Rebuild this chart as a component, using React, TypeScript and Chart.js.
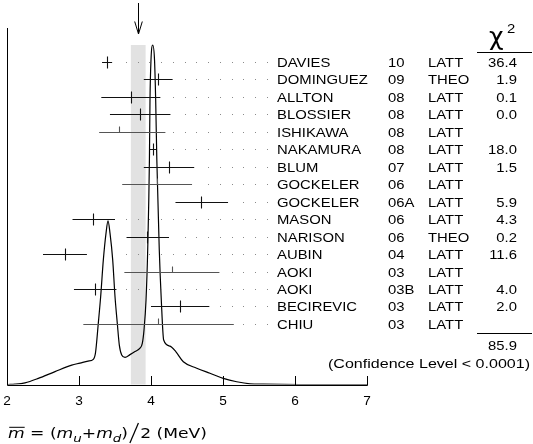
import React, { useEffect, useRef } from "react";
import { Chart, registerables } from "chart.js";
Chart.register(...registerables);

// ---- data ----
const names = ["DAVIES", "DOMINGUEZ", "ALLTON", "BLOSSIER", "ISHIKAWA", "NAKAMURA", "BLUM", "GOCKELER", "GOCKELER", "MASON", "NARISON", "AUBIN", "AOKI", "AOKI", "BECIREVIC", "CHIU"];
const years = ["10", "09", "08", "08", "08", "08", "07", "06", "06A", "06", "06", "04", "03", "03B", "03", "03"];
const methods = ["LATT", "THEO", "LATT", "LATT", "LATT", "LATT", "LATT", "LATT", "LATT", "LATT", "THEO", "LATT", "LATT", "LATT", "LATT", "LATT"];
const chi2 = ["36.4", "1.9", "0.1", "0.0", "", "18.0", "1.5", "", "5.9", "4.3", "0.2", "11.6", "", "4.0", "2.0", ""];
const values = [3.39, 4.10, 3.72, 3.85, 3.55, 4.026, 4.25, 4.08, 4.70, 3.20, 3.95, 2.81, 4.29, 3.22, 4.40, 4.10];
const errLo = [0.07, 0.20, 0.41, 0.42, 0.27, 0.045, 0.35, 0.48, 0.36, 0.29, 0.29, 0.31, 0.66, 0.29, 0.40, 1.04];
const errHi = [0.07, 0.20, 0.41, 0.42, 0.65, 0.045, 0.35, 0.49, 0.37, 0.30, 0.30, 0.30, 0.66, 0.30, 0.41, 1.05];
const chi2Total = "85.9";
const confidenceText = "(Confidence Level < 0.0001)";
const average = 3.825;
const bandLo = 3.72;
const bandHi = 3.925;
const xTicks = [2, 3, 4, 5, 6, 7];
const xTickLabels = ["2", "3", "4", "5", "6", "7"];
// ideogram curve (x in MeV, height relative to the main peak)
const curveX = [2.014, 2.111, 2.25, 2.435, 2.667, 2.899, 3.014, 3.125, 3.199, 3.229, 3.268, 3.301, 3.338, 3.375, 3.403, 3.431, 3.468, 3.5, 3.532, 3.56, 3.593, 3.639, 3.708, 3.778, 3.847, 3.879, 3.903, 3.931, 3.954, 3.978, 3.986, 4.0, 4.024, 4.049, 4.065, 4.081, 4.115, 4.143, 4.176, 4.264, 4.347, 4.449, 4.635, 4.819, 5.004, 5.19, 5.375, 5.56, 6.07, 7.0];
const curveY = [0, 0.001, 0.005, 0.018, 0.038, 0.057, 0.063, 0.069, 0.074, 0.093, 0.18, 0.259, 0.367, 0.445, 0.482, 0.445, 0.367, 0.259, 0.18, 0.116, 0.087, 0.08, 0.088, 0.097, 0.107, 0.121, 0.161, 0.249, 0.396, 0.661, 0.838, 0.956, 1.0, 0.956, 0.838, 0.661, 0.396, 0.249, 0.131, 0.113, 0.096, 0.067, 0.048, 0.033, 0.018, 0.008, 0.002, 0.001, 0, 0];

// ---- layout / style constants ----
const W = 533, H = 444;
const FONT = "'Liberation Sans', Arial, sans-serif";
const TXT_SX = 1.1;
const COL_NAME = 277, COL_YEAR = 388, COL_METHOD = 428, COL_CHI = 517;
const DOT_START = 3.653, DOT_STEP = 0.163, DOT_COUNT = 13;

function drawText(ctx: CanvasRenderingContext2D, s: string, x: number, y: number, align: string, font: string, sx: number) {
  ctx.save();
  ctx.font = font;
  const w = ctx.measureText(s).width * sx;
  let left = x;
  if (align === "right") left = x - w;
  else if (align === "center") left = x - w / 2;
  ctx.translate(left, y);
  ctx.scale(sx, 1);
  ctx.textAlign = "left";
  ctx.textBaseline = "alphabetic";
  ctx.fillStyle = "#000";
  ctx.fillText(s, 0, 0);
  ctx.restore();
}

function drawTitle(ctx: CanvasRenderingContext2D, x0: number, base: number, targetW: number) {
  const fs = 14;
  const reg = `${fs}px 'DejaVu Sans'`;
  const it = `oblique ${fs}px 'DejaVu Sans'`;
  const sub = `oblique ${Math.round(fs * 0.8)}px 'DejaVu Sans'`;
  const parts = [
    { t: "m", f: it, dy: 0, over: true },
    { t: " = (", f: reg, dy: 0 },
    { t: "m", f: it, dy: 0 },
    { t: "u", f: sub, dy: 4 },
    { t: "+", f: reg, dy: 0 },
    { t: "m", f: it, dy: 0 },
    { t: "d", f: sub, dy: 4 },
    { t: ")", f: reg, dy: 0 },
    { t: "/", f: reg, dy: 0, slash: true },
    { t: "2 (MeV)", f: reg, dy: 0 },
  ];
  ctx.save();
  let total = 0;
  const widths = parts.map((p: any) => {
    ctx.font = p.f;
    const w = p.slash ? 10 : ctx.measureText(p.t).width;
    total += w;
    return w;
  });
  const sx = targetW / total;
  ctx.translate(x0, base);
  ctx.scale(sx, 1);
  ctx.fillStyle = "#000";
  ctx.strokeStyle = "#000";
  ctx.textBaseline = "alphabetic";
  let cx = 0;
  parts.forEach((p: any, i) => {
    ctx.font = p.f;
    if (p.slash) {
      ctx.lineWidth = 1;
      ctx.beginPath();
      ctx.moveTo(cx + 1.5, 5);
      ctx.lineTo(cx + 8.5, -15);
      ctx.stroke();
    } else {
      ctx.fillText(p.t, cx, p.dy);
    }
    if (p.over) {
      ctx.fillRect(cx + 1, -fs * 0.8, widths[i] - 1, 1);
    }
    cx += widths[i];
  });
  ctx.restore();
}

const ideogramPlugin = {
  id: "ideogram",
  beforeDatasetsDraw(chart: any) {
    const { ctx, scales } = chart;
    const x = scales.x, yc = scales.yc;
    const x0 = x.getPixelForValue(bandLo), x1 = x.getPixelForValue(bandHi);
    const yt = yc.getPixelForValue(1), yb = yc.getPixelForValue(0);
    ctx.save();
    ctx.fillStyle = "#e2e2e2";
    ctx.fillRect(x0, yt, x1 - x0, yb - yt);
    ctx.restore();
  },
  afterDatasetsDraw(chart: any) {
    const { ctx, scales } = chart;
    const x = scales.x, y = scales.y, yc = scales.yc;
    const left = x.getPixelForValue(xTicks[0]);
    const right = x.getPixelForValue(xTicks[xTicks.length - 1]);
    const base = yc.getPixelForValue(0);
    const top = yc.getPixelForValue(yc.max);
    ctx.save();
    // axes
    ctx.strokeStyle = "#000";
    ctx.lineWidth = 1;
    ctx.beginPath();
    ctx.moveTo(Math.round(left) + 0.5, Math.round(top));
    ctx.lineTo(Math.round(left) + 0.5, Math.round(base) + 0.5);
    ctx.lineTo(Math.round(right) + 0.5, Math.round(base) + 0.5);
    xTicks.forEach((v, i) => {
      if (i === 0) return;
      const px = Math.round(x.getPixelForValue(v)) + 0.5;
      ctx.moveTo(px, Math.round(base) + 0.5);
      ctx.lineTo(px, Math.round(base) - 9);
    });
    ctx.stroke();
    // tick labels
    xTicks.forEach((v, i) => {
      drawText(ctx, xTickLabels[i], x.getPixelForValue(v), 405, "center", `13px ${FONT}`, 1.05);
    });
    // error bars + dots
    values.forEach((v, i) => {
      const py = Math.round(y.getPixelForValue(i)) + 0.5;
      const isUsed = chi2[i] !== "";
      const lo = x.getPixelForValue(v - errLo[i]);
      const hi = x.getPixelForValue(v + errHi[i]);
      const c = x.getPixelForValue(v);
      ctx.strokeStyle = isUsed ? "#111" : "#555";
      ctx.lineWidth = 1.1;
      ctx.beginPath();
      ctx.moveTo(lo, py);
      ctx.lineTo(hi, py);
      const cx = Math.round(c) + 0.5;
      ctx.moveTo(cx, py - 6);
      ctx.lineTo(cx, isUsed ? py + 6 : py);
      ctx.stroke();
      ctx.fillStyle = "#8a8a8a";
      for (let k = 0; k < DOT_COUNT; k++) {
        const gx = x.getPixelForValue(DOT_START + k * DOT_STEP);
        if (gx >= hi + 6) ctx.fillRect(Math.round(gx), py - 0.5, 1, 1);
      }
      // row texts
      const tb = py + 4.8;
      const f = `13.5px ${FONT}`;
      drawText(ctx, names[i], COL_NAME, tb, "left", f, TXT_SX);
      drawText(ctx, years[i], COL_YEAR, tb, "left", f, TXT_SX);
      drawText(ctx, methods[i], COL_METHOD, tb, "left", f, TXT_SX);
      if (chi2[i]) drawText(ctx, chi2[i], COL_CHI, tb, "right", f, TXT_SX);
    });
    // chi2 header
    drawText(ctx, "\u03C7", 489, 45, "left", `24px 'DejaVu Sans'`, 1.05);
    drawText(ctx, "2", 507, 33.3, "left", `13.5px ${FONT}`, TXT_SX);
    ctx.strokeStyle = "#000";
    ctx.lineWidth = 1;
    ctx.beginPath();
    ctx.moveTo(477, 52.5);
    ctx.lineTo(532, 52.5);
    ctx.moveTo(477, 333.5);
    ctx.lineTo(532, 333.5);
    ctx.stroke();
    drawText(ctx, chi2Total, COL_CHI, 350, "right", `13.5px ${FONT}`, TXT_SX);
    ctx.font = `13.5px ${FONT}`;
    const cw = ctx.measureText(confidenceText).width;
    drawText(ctx, confidenceText, 530, 368, "right", `13.5px ${FONT}`, 202 / cw);
    // arrow at the average
    const ax = Math.round(x.getPixelForValue(average)) + 0.5;
    ctx.strokeStyle = "#000";
    ctx.beginPath();
    ctx.moveTo(ax, 3);
    ctx.lineTo(ax, 34);
    ctx.moveTo(ax - 3.8, 21.5);
    ctx.lineTo(ax, 34);
    ctx.lineTo(ax + 3.8, 21.5);
    ctx.stroke();
    // axis title
    drawTitle(ctx, 8, 438, 199);
    ctx.restore();
  },
};

export default function App() {
  const ref = useRef<HTMLCanvasElement | null>(null);
  useEffect(() => {
    if (!ref.current) return;
    const chart = new Chart(ref.current, {
      type: "scatter",
      data: {
        datasets: [
          {
            label: "ideogram",
            data: curveX.map((v, i) => ({ x: v, y: curveY[i] })),
            yAxisID: "yc",
            showLine: true,
            borderColor: "#000",
            borderWidth: 1.2,
            pointRadius: 0,
            fill: false,
            cubicInterpolationMode: "monotone",
          } as any,
          {
            label: "measurements",
            data: values.map((v, i) => ({ x: v, y: i })),
            yAxisID: "y",
            pointRadius: 0,
            showLine: false,
          } as any,
        ],
      },
      options: {
        animation: false,
        responsive: false,
        events: [],
        layout: { padding: { left: 7, right: 166, top: 28, bottom: 59.5 } },
        plugins: { legend: { display: false }, tooltip: { enabled: false } },
        scales: {
          x: { type: "linear", min: 2, max: 7, display: false },
          y: { type: "linear", reverse: true, min: -1.948, max: 18.467, display: false },
          yc: { type: "linear", min: 0, max: 1.05, display: false },
        },
      },
      plugins: [ideogramPlugin],
    });
    return () => chart.destroy();
  }, []);
  return (
    <div style={{ position: "fixed", left: 0, top: 0, width: W, height: H, background: "#fff" }}>
      <canvas ref={ref} width={W} height={H} style={{ display: "block", width: W, height: H }} />
    </div>
  );
}
